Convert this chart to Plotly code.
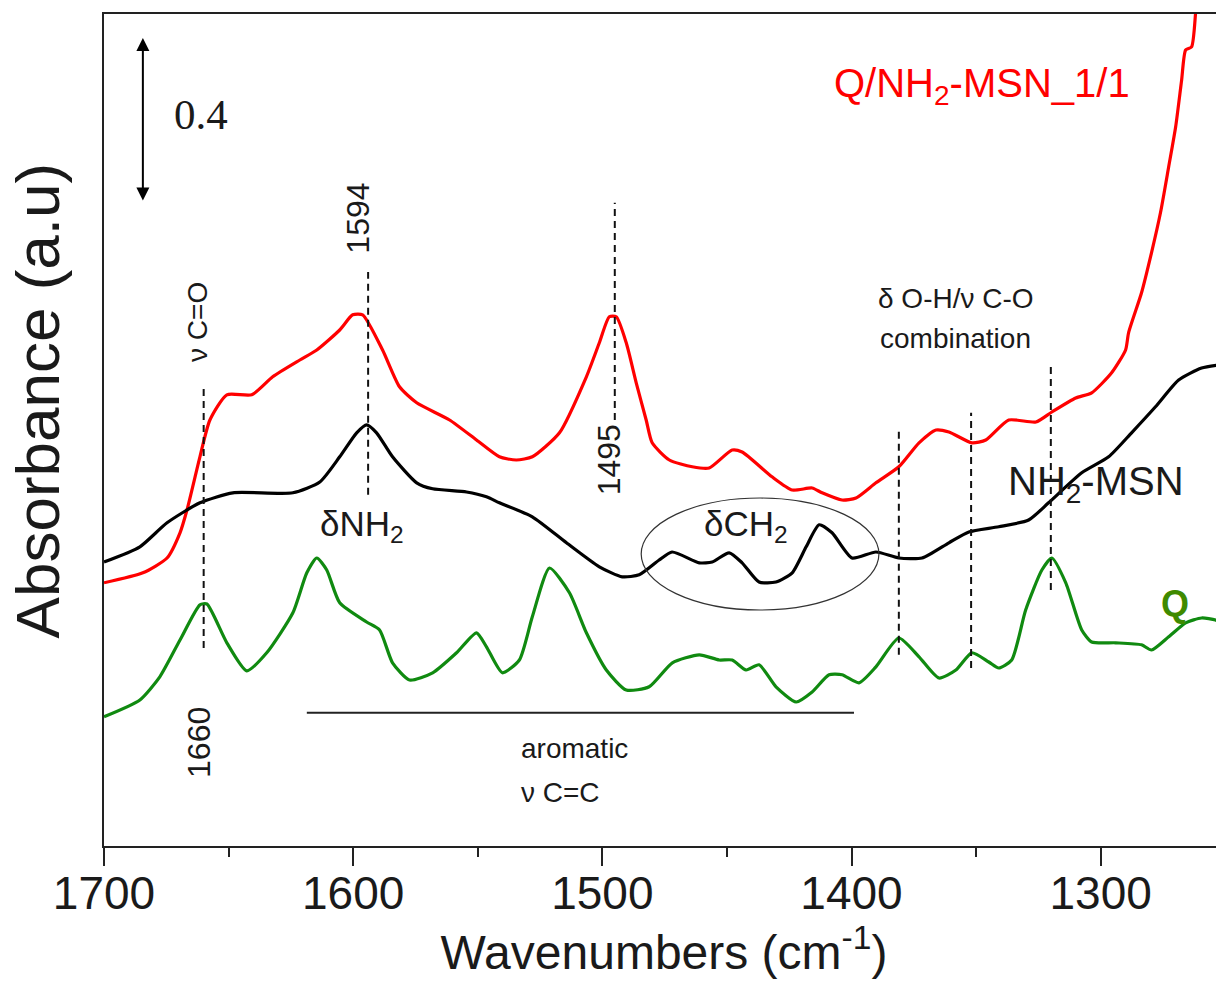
import plotly.graph_objects as go

# FTIR spectra, wavenumber (cm-1) vs absorbance (stacked, arbitrary offset)
red_wn = [1700.0, 1684.4, 1674.7, 1669.5, 1666.7, 1661.5, 1657.5, 1650.7, 1640.7, 1632.3,
          1621.4, 1614.6, 1605.4, 1600.2, 1596.2, 1588.2, 1581.4, 1574.5, 1561.3, 1550.5,
          1541.3, 1534.5, 1528.1, 1517.2, 1506.4, 1501.2, 1497.2, 1494.4, 1490.4, 1486.4,
          1482.4, 1480.0, 1473.1, 1463.9, 1457.1, 1447.9, 1443.9, 1431.9, 1423.8, 1415.8,
          1411.8, 1403.8, 1398.2, 1390.2, 1381.0, 1372.9, 1366.1, 1360.9, 1351.7, 1346.1,
          1336.9, 1326.0, 1319.6, 1310.0, 1303.6, 1295.6, 1290.0, 1288.8, 1283.6, 1279.6,
          1276.0, 1272.7, 1269.9, 1267.5, 1265.9, 1263.5, 1261.9, 1261.0]
red_abs = [0.658, 0.683, 0.720, 0.783, 0.840, 0.973, 1.065, 1.128, 1.128, 1.173,
           1.215, 1.240, 1.290, 1.328, 1.328, 1.240, 1.148, 1.108, 1.065, 1.015,
           0.973, 0.965, 0.973, 1.033, 1.173, 1.258, 1.323, 1.323, 1.258, 1.158,
           1.065, 1.008, 0.965, 0.948, 0.945, 0.990, 0.985, 0.923, 0.890, 0.895,
           0.883, 0.865, 0.870, 0.908, 0.948, 1.008, 1.040, 1.035, 1.008, 1.015,
           1.065, 1.060, 1.085, 1.120, 1.133, 1.183, 1.240, 1.283, 1.383, 1.483,
           1.583, 1.698, 1.798, 1.915, 1.990, 1.998, 2.083, 2.150]

black_wn = [1700.0, 1685.6, 1674.7, 1661.5, 1648.3, 1624.2, 1613.4, 1605.4, 1598.6, 1594.6,
            1590.6, 1584.2, 1574.5, 1568.1, 1554.5, 1546.5, 1541.3, 1528.1, 1514.4, 1501.2,
            1492.0, 1485.2, 1477.2, 1472.0, 1461.1, 1455.9, 1449.1, 1443.9, 1437.1, 1430.3,
            1423.8, 1418.2, 1413.0, 1407.8, 1399.8, 1390.2, 1381.0, 1371.7, 1360.9, 1352.9,
            1340.9, 1328.9, 1320.9, 1307.6, 1296.8, 1287.6, 1278.0, 1268.7, 1259.5, 1250.0]
black_abs = [0.710, 0.748, 0.808, 0.858, 0.883, 0.883, 0.910, 0.973, 1.033, 1.053,
             1.033, 0.973, 0.908, 0.893, 0.885, 0.873, 0.858, 0.823, 0.758, 0.698,
             0.673, 0.678, 0.715, 0.735, 0.708, 0.710, 0.733, 0.708, 0.660, 0.660,
             0.683, 0.748, 0.803, 0.783, 0.720, 0.735, 0.720, 0.720, 0.758, 0.785,
             0.798, 0.815, 0.858, 0.933, 0.973, 1.033, 1.098, 1.165, 1.195, 1.205]

green_wn = [1700.0, 1685.6, 1677.6, 1669.5, 1661.5, 1658.7, 1650.7, 1642.7, 1634.7, 1624.2,
            1618.6, 1614.6, 1610.6, 1605.4, 1594.6, 1589.4, 1584.2, 1577.4, 1568.1, 1558.5,
            1550.5, 1546.5, 1540.1, 1533.3, 1528.1, 1521.2, 1513.2, 1506.4, 1498.4, 1490.4,
            1481.2, 1471.9, 1461.1, 1453.1, 1447.9, 1442.3, 1437.1, 1430.3, 1422.2, 1415.8,
            1409.0, 1403.8, 1397.0, 1390.2, 1381.0, 1372.9, 1364.9, 1358.1, 1351.7, 1344.9,
            1340.9, 1335.7, 1330.1, 1323.6, 1319.6, 1314.0, 1307.6, 1303.6, 1294.0, 1283.6,
            1279.6, 1272.7, 1265.9, 1259.5, 1253.9, 1250.0]
green_abs = [0.323, 0.365, 0.423, 0.515, 0.603, 0.605, 0.508, 0.438, 0.483, 0.583,
             0.683, 0.720, 0.690, 0.608, 0.560, 0.540, 0.458, 0.415, 0.433, 0.483,
             0.533, 0.498, 0.433, 0.465, 0.573, 0.695, 0.633, 0.533, 0.440, 0.390,
             0.398, 0.458, 0.478, 0.465, 0.465, 0.440, 0.453, 0.398, 0.360, 0.385,
             0.428, 0.428, 0.408, 0.448, 0.520, 0.473, 0.420, 0.440, 0.483, 0.460,
             0.445, 0.465, 0.590, 0.690, 0.720, 0.658, 0.540, 0.510, 0.508, 0.503,
             0.490, 0.523, 0.558, 0.570, 0.565, 0.550]

# marked bands: wavenumber, dashed line bottom / top
band_wn = [1660, 1594, 1495, 1381, 1352, 1320]
band_lo = [0.495, 0.878, 1.065, 0.478, 0.445, 0.640]
band_hi = [1.153, 1.435, 1.608, 1.040, 1.083, 1.203]

FONT = "Liberation Sans"
TXT = "#1a1a1a"

fig = go.Figure()
for wn, ab, col in [(red_wn, red_abs, "#ff0000"), (black_wn, black_abs, "#000000"),
                    (green_wn, green_abs, "#108a10")]:
    fig.add_trace(go.Scatter(x=wn, y=ab, mode="lines",
                             line=dict(color=col, width=3.2, shape="spline", smoothing=0.6),
                             showlegend=False, hoverinfo="skip"))

shapes = []
for wn, lo, hi in zip(band_wn, band_lo, band_hi):
    shapes.append(dict(type="line", x0=wn, x1=wn, y0=lo, y1=hi, xref="x", yref="y",
                       line=dict(color="#111", width=2, dash="7px,5px")))
# aromatic C=C bar
shapes.append(dict(type="line", x0=1618.6, x1=1399.0, y0=0.333, y1=0.333, xref="x", yref="y",
                   line=dict(color="#222", width=2)))
# ellipse around CH2 bands
shapes.append(dict(type="circle", x0=1484.4, x1=1389.0, y0=0.59, y1=0.87, xref="x", yref="y",
                   line=dict(color="#333", width=1.2)))
fig.update_layout(shapes=shapes)

ann = []
def txt(x, y, s, size=28, angle=0, color=TXT, family=FONT, xanchor="center"):
    ann.append(dict(x=x, y=y, xref="x", yref="y", text=s, showarrow=False, textangle=angle,
                    font=dict(size=size, color=color, family=family), xanchor=xanchor))

txt(1407.8, 1.90, "Q/NH<sub>2</sub>-MSN_1/1", size=40, color="#ff0000", xanchor="left")
txt(1661.1, 1.828, "0.4", size=43, family="Liberation Serif")
txt(1598.2, 1.57, "1594", size=32, angle=-90)
txt(1662.7, 1.31, "ν C=O", size=28, angle=-90)
txt(1661.9, 0.26, "1660", size=32, angle=-90)
txt(1497.2, 0.965, "1495", size=32, angle=-90)
txt(1358.1, 1.37, "δ O-H/ν C-O", size=28)
txt(1358.1, 1.27, "combination", size=28)
txt(1302.0, 0.905, "NH<sub>2</sub>-MSN", size=40)
txt(1596.6, 0.80, "δNH<sub>2</sub>", size=35)
txt(1442.3, 0.80, "δCH<sub>2</sub>", size=35)
txt(1270.0, 0.607, "<b>Q</b>", size=36, color="#3f8a00")
txt(1533.3, 0.243, "aromatic", size=28, xanchor="left")
txt(1533.3, 0.135, "ν C=C", size=28, xanchor="left")
ann.append(dict(x=1684.4, y=2.02, ax=1684.4, ay=1.61, xref="x", yref="y", axref="x", ayref="y",
                text="", showarrow=True, arrowhead=2, arrowside="end+start", arrowsize=1.3,
                arrowwidth=2, arrowcolor="#000"))
ann.append(dict(x=-0.0595, y=0.536, xref="paper", yref="paper", text="Absorbance (a.u)",
                xanchor="center", yanchor="middle",
                showarrow=False, textangle=-90, font=dict(size=62, color=TXT, family=FONT)))
fig.update_layout(annotations=ann)

fig.update_xaxes(range=[1700, 1250.5], tickvals=[1700, 1600, 1500, 1400, 1300],
                 ticks="outside", ticklen=18, tickwidth=2, tickcolor="#222",
                 ticklabelstandoff=-12,
                 minor=dict(tickvals=[1650, 1550, 1450, 1350], ticks="outside", ticklen=9,
                            tickwidth=2, tickcolor="#222"),
                 showline=True, linecolor="#222", linewidth=2, mirror=True,
                 showgrid=False, zeroline=False,
                 tickfont=dict(size=46, color=TXT, family=FONT),
                 title=dict(text="Wavenumbers (cm<sup>-1</sup>)", standoff=8,
                            font=dict(size=48, color=TXT, family=FONT)))
fig.update_yaxes(range=[0, 2.08], showticklabels=False, ticks="", showgrid=False,
                 zeroline=False, showline=True, linecolor="#222", linewidth=2)

# page body has an 8px margin, so the figure is drawn 8px smaller and shifted
fig.update_layout(width=1216, height=977, margin=dict(l=96, r=0, t=6, b=139),
                  plot_bgcolor="white", paper_bgcolor="white")
fig.write_html("out.html")
